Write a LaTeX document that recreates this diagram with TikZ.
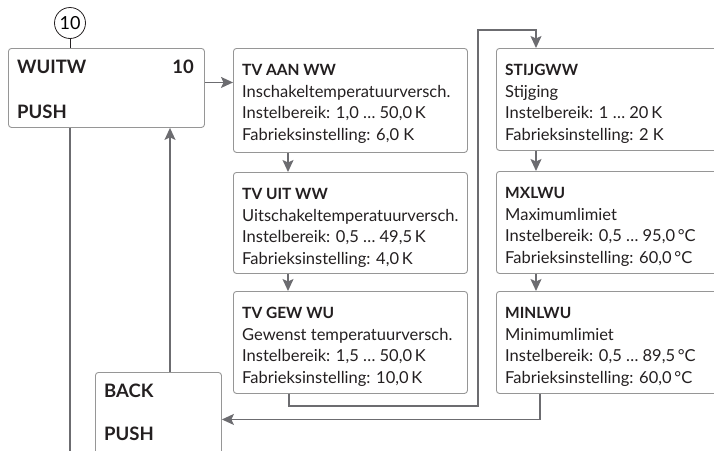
\documentclass[tikz,border=0pt]{standalone}
\usepackage{fontspec}
\setmainfont{Lato}
\usetikzlibrary{arrows.meta}
\definecolor{linegray}{RGB}{108,108,112}
\definecolor{boxgray}{RGB}{150,150,150}
\definecolor{inkblack}{RGB}{35,31,32}
\newcommand{\menuhead}[1]{{\bfseries\fontsize{15.5}{21.6}\selectfont #1}}

\begin{document}
\begin{tikzpicture}[x=1pt, y=1pt, >={Stealth[length=12pt,width=11pt,inset=2.5pt]},
    menubox/.style={draw=boxgray, line width=0.9pt, rounded corners=3pt, anchor=north west, inner sep=0pt},
    boxtext/.style={anchor=north west, align=left, inner sep=0pt, text=inkblack, font=\fontsize{16.5}{21.6}\selectfont},
    keytext/.style={anchor=base west, inner sep=0pt, text=inkblack, font=\fontsize{18.5}{22}\selectfont\bfseries},
    conn/.style={draw=linegray, line width=1.4pt}]
    \useasboundingbox (0,0) rectangle (714,-450);

    \node[circle, draw=inkblack, line width=0.8pt, minimum size=31, inner sep=0pt, font=\fontsize{18}{20}\selectfont] (step10) at (70,-23) {10};

    \node[menubox, minimum width=196, minimum height=79] (wuitw) at (8,-48) {};
    \node[keytext] (wuitwname) at (17,-73) {WUITW};
    \node[keytext, anchor=base east] (wuitwnum) at (194,-73) {10};
    \node[keytext] (wuitwpush) at (17,-118) {PUSH};

    \node[menubox, minimum width=126, minimum height=94] (back) at (95,-372) {};
    \node[keytext] (backname) at (104,-397) {BACK};
    \node[keytext] (backpush) at (104,-440) {PUSH};

    \begin{scope}
        \node[menubox, minimum width=234, minimum height=104] (tvaan) at (233,-48) {};
        \node[boxtext] (tvaantxt) at (242,-64) {\menuhead{TV AAN WW}\\Inschakeltemperatuurversch.\\Instelbereik: 1,0 … 50,0\,K\\Fabrieksinstelling: 6,0 K};
        \node[menubox, minimum width=234, minimum height=101] (tvuit) at (233,-172) {};
        \node[boxtext] (tvuittxt) at (242,-188) {\menuhead{TV UIT WW}\\Uitschakeltemperatuurversch.\\Instelbereik: 0,5 … 49,5\,K\\Fabrieksinstelling: 4,0\,K};
        \node[menubox, minimum width=234, minimum height=102] (tvgew) at (233,-291) {};
        \node[boxtext] (tvgewtxt) at (242,-307) {\menuhead{TV GEW WU}\\Gewenst temperatuurversch.\\Instelbereik: 1,5 … 50,0\,K\\Fabrieksinstelling: 10,0\,K};
    \end{scope}

    \begin{scope}
        \node[menubox, minimum width=230, minimum height=102] (stijg) at (496,-48) {};
        \node[boxtext] (stijgtxt) at (505,-64) {\menuhead{STIJGWW}\\Stijging\\Instelbereik: 1 … 20\,K\\Fabrieksinstelling: 2 K};
        \node[menubox, minimum width=230, minimum height=102] (mxl) at (496,-171) {};
        \node[boxtext] (mxltxt) at (505,-187) {\menuhead{MXLWU}\\Maximumlimiet\\Instelbereik: 0,5 … 95,0\,°C\\Fabrieksinstelling: 60,0\,°C};
        \node[menubox, minimum width=230, minimum height=102] (minl) at (496,-291) {};
        \node[boxtext] (minltxt) at (505,-307) {\menuhead{MINLWU}\\Minimumlimiet\\Instelbereik: 0,5 … 89,5\,°C\\Fabrieksinstelling: 60,0\,°C};
    \end{scope}

    \draw[draw=inkblack, line width=0.8pt] (step10.south) -- (step10.south |- wuitw.north);
    \draw[conn, ->] ([yshift=5.5pt]wuitw.east) -- ([yshift=5.5pt]wuitw.east -| tvaan.west);
    \draw[conn, ->] ([xshift=55pt]tvaan.south west) -- ([xshift=55pt]tvuit.north west);
    \draw[conn, ->] ([xshift=55pt]tvuit.south west) -- ([xshift=55pt]tvgew.north west);
    \draw[conn, ->] ([xshift=56pt]tvgew.south west) -- ++(0,-12)
        -| ([xshift=10pt,yshift=18pt]tvaan.north east) -| ([xshift=40pt]stijg.north west);
    \draw[conn, ->] ([xshift=40pt]stijg.south west) -- ([xshift=40pt]mxl.north west);
    \draw[conn, ->] ([xshift=40pt]mxl.south west) -- ([xshift=40pt]minl.north west);
    \draw[conn, ->] ([xshift=44pt]minl.south west) |- (back.east);
    \draw[conn, ->] ([xshift=75pt]back.north west) -- ([xshift=75pt]back.north west |- wuitw.south);
    \draw[conn] ([xshift=62pt]wuitw.south west) -- ++(0,-330);
\end{tikzpicture}
\end{document}
